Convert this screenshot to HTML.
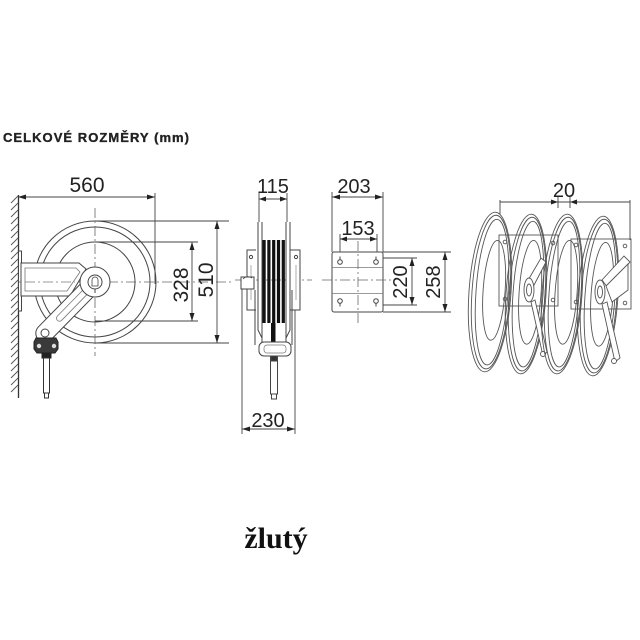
<!DOCTYPE html>
<html><head><meta charset="utf-8"><style>
html,body{margin:0;padding:0;background:#fff;}
svg{display:block;}
</style></head><body>
<svg width="640" height="640" viewBox="0 0 640 640" xmlns="http://www.w3.org/2000/svg">
<rect width="640" height="640" fill="#fff"/>
<!-- Title -->
<text x="3" y="142" font-family="Liberation Sans, sans-serif" font-weight="bold" font-size="13" fill="#222" stroke="#222" stroke-width="0.35" textLength="186" lengthAdjust="spacing">CELKOVÉ ROZMĚRY (mm)</text>

<!-- ============ LEFT VIEW ============ -->
<g stroke="#444" stroke-width="1" fill="none">
  <line x1="18.5" y1="195" x2="18.5" y2="398" stroke="#333" stroke-width="1.3"/>
  <g stroke="#555" stroke-width="0.9">
    <line x1="18" y1="196" x2="11" y2="203"/><line x1="18" y1="203" x2="11" y2="210"/><line x1="18" y1="210" x2="11" y2="217"/><line x1="18" y1="217" x2="11" y2="224"/><line x1="18" y1="224" x2="11" y2="231"/><line x1="18" y1="231" x2="11" y2="238"/><line x1="18" y1="238" x2="11" y2="245"/><line x1="18" y1="245" x2="11" y2="252"/><line x1="18" y1="252" x2="11" y2="259"/><line x1="18" y1="259" x2="11" y2="266"/><line x1="18" y1="266" x2="11" y2="273"/><line x1="18" y1="273" x2="11" y2="280"/><line x1="18" y1="280" x2="11" y2="287"/><line x1="18" y1="287" x2="11" y2="294"/><line x1="18" y1="294" x2="11" y2="301"/><line x1="18" y1="301" x2="11" y2="308"/><line x1="18" y1="308" x2="11" y2="315"/><line x1="18" y1="315" x2="11" y2="322"/><line x1="18" y1="322" x2="11" y2="329"/><line x1="18" y1="329" x2="11" y2="336"/><line x1="18" y1="336" x2="11" y2="343"/><line x1="18" y1="343" x2="11" y2="350"/><line x1="18" y1="350" x2="11" y2="357"/><line x1="18" y1="357" x2="11" y2="364"/><line x1="18" y1="364" x2="11" y2="371"/><line x1="18" y1="371" x2="11" y2="378"/><line x1="18" y1="378" x2="11" y2="385"/><line x1="18" y1="385" x2="11" y2="392"/>
  </g>
  <rect x="18.5" y="251" width="3" height="60" fill="#fff"/>

  <circle cx="95" cy="282" r="61"/>
  <circle cx="95" cy="282" r="55"/>
  <circle cx="95" cy="282" r="40"/>

  <line x1="18" y1="282" x2="232" y2="282" stroke="#666" stroke-width="0.8" stroke-dasharray="10,3,2,3"/>
  <line x1="95" y1="208" x2="95" y2="356" stroke="#666" stroke-width="0.8" stroke-dasharray="10,3,2,3"/>

  <polygon points="21,263 79,263 86,269 70,296 21,296" fill="#fff"/>
  <polygon points="25,268 76,268 80,272 67,291 25,291" stroke="#777" stroke-width="0.8"/>
  <line x1="25" y1="282" x2="75" y2="282" stroke="#777" stroke-width="0.8" stroke-dasharray="10,3,2,3"/>

  <rect x="-45" y="-9" width="90" height="18" rx="9" transform="translate(70,307.5) rotate(134.4)" fill="#fff"/>
  <rect x="-26" y="-3" width="44" height="6" rx="3" transform="translate(70,307.5) rotate(134.4)" stroke="#777" stroke-width="0.8"/>
  <circle cx="45" cy="333" r="4" fill="#fff"/>

  <circle cx="95" cy="282" r="15" fill="#fff"/>
  <circle cx="95" cy="282" r="7"/>
  <path d="M92,286 v-6 a3,3 0 0 1 6,0 v6 z" stroke-width="0.8"/>
  <line x1="95" y1="289" x2="95" y2="293"/>

  <path d="M36,338 h20 l2,4 v7 l-3,4 h-18 l-3,-4 v-7 z" fill="#3a3a3a" stroke="#222"/>
  <circle cx="39" cy="346" r="2.2" fill="#ddd" stroke="none"/>
  <circle cx="54" cy="346" r="2.2" fill="#ddd" stroke="none"/>
  <rect x="42" y="353" width="9" height="5" fill="#222" stroke="#222"/>
  <rect x="43.5" y="358" width="6" height="35" fill="#fff" stroke="#333"/>
  <rect x="44.5" y="393" width="4" height="5" fill="#fff" stroke="#333"/>
</g>

<g stroke="#444" stroke-width="0.9" fill="none">
  <line x1="155" y1="193" x2="155" y2="284"/>
  <line x1="18" y1="197" x2="155" y2="197"/>
  <line x1="95" y1="221" x2="229" y2="221"/>
  <line x1="95" y1="343" x2="229" y2="343"/>
  <line x1="217" y1="221" x2="217" y2="343"/>
  <line x1="95" y1="242" x2="198" y2="242"/>
  <line x1="95" y1="321" x2="198" y2="321"/>
  <line x1="192" y1="242" x2="192" y2="321"/>
</g>
<g fill="#222">
  <polygon points="18,197 26,194.5 26,199.5"/>
  <polygon points="155,197 147,194.5 147,199.5"/>
  <polygon points="217,221 214.5,229 219.5,229"/>
  <polygon points="217,343 214.5,335 219.5,335"/>
  <polygon points="192,242 189.5,250 194.5,250"/>
  <polygon points="192,321 189.5,313 194.5,313"/>
</g>
<g font-family="Liberation Sans, sans-serif" font-size="21" fill="#222" text-anchor="middle">
  <text x="87" y="192">560</text>
  <text transform="translate(188,285) rotate(-90)">328</text>
  <text transform="translate(213,280) rotate(-90)">510</text>
</g>

<!-- ============ SIDE VIEW ============ -->
<g stroke="#444" stroke-width="1" fill="none">
  <line x1="235" y1="280" x2="312" y2="280" stroke="#666" stroke-width="0.8" stroke-dasharray="10,3,2,3"/>
  <path d="M256,250 h-9 v60 h9" fill="#fff"/>
  <circle cx="251" cy="257" r="1.6"/>
  <path d="M290,250 h10 v60 h-10" fill="#fff"/>
  <circle cx="296" cy="257" r="1.6"/>
  <line x1="251" y1="265" x2="251" y2="300" stroke="#888" stroke-width="0.7"/>
  <line x1="296" y1="265" x2="296" y2="300" stroke="#888" stroke-width="0.7"/>
  <line x1="255" y1="290" x2="255" y2="345"/>
  <line x1="292" y1="290" x2="292" y2="345"/>
  <path d="M258,222 v108 l4,8 v-116" fill="#fff"/>
  <path d="M290,222 v108 l-4,8 v-116" fill="#fff"/>
  <path d="M241,277 h13 v12 h-13 z" fill="#fff"/>
  <path d="M243,279 q4,-4 9,-1" stroke-width="0.8"/>
</g>
<g fill="#111">
  <rect x="262.5" y="240" width="3.2" height="83"/>
  <rect x="267.3" y="240" width="3.2" height="83"/>
  <rect x="272.1" y="240" width="3.2" height="83"/>
  <rect x="276.9" y="240" width="3.2" height="83"/>
  <rect x="281.7" y="240" width="3.2" height="83"/>
  <rect x="271" y="323" width="4.5" height="20"/>
</g>
<g stroke="#444" stroke-width="1" fill="#fff">
  <path d="M262,323 v20 M286,323 v20" fill="none"/>
  <rect x="259" y="342" width="32" height="14" rx="5"/>
  <rect x="264" y="345" width="22" height="8" rx="3" fill="none" stroke="#777" stroke-width="0.7"/>
  <rect x="270.5" y="356" width="7" height="38"/>
  <rect x="271" y="356" width="6" height="5" fill="#333"/>
  <rect x="271.5" y="394" width="5" height="5"/>
</g>
<g stroke="#444" stroke-width="0.9" fill="none">
  <line x1="259" y1="193" x2="259" y2="222"/>
  <line x1="287" y1="193" x2="287" y2="222"/>
  <line x1="259" y1="199" x2="287" y2="199"/>
  <line x1="242" y1="289" x2="242" y2="434"/>
  <line x1="295" y1="310" x2="295" y2="434"/>
  <line x1="242" y1="429" x2="295" y2="429"/>
</g>
<g fill="#222">
  <polygon points="259,199 266,196.5 266,201.5"/>
  <polygon points="287,199 280,196.5 280,201.5"/>
  <polygon points="242,429 250,426.5 250,431.5"/>
  <polygon points="295,429 287,426.5 287,431.5"/>
</g>
<g font-family="Liberation Sans, sans-serif" font-size="20" fill="#222" text-anchor="middle">
  <text x="273" y="193">115</text>
  <text x="268" y="427">230</text>
</g>

<!-- ============ PLATE VIEW ============ -->
<g stroke="#444" stroke-width="1" fill="none">
  <rect x="332" y="252" width="51" height="60" rx="2" fill="#fff"/>
  <line x1="332" y1="267.5" x2="383" y2="267.5" stroke="#777" stroke-width="0.8"/>
  <line x1="332" y1="293.5" x2="383" y2="293.5" stroke="#777" stroke-width="0.8"/>
  <line x1="358" y1="241" x2="358" y2="324" stroke="#666" stroke-width="0.8" stroke-dasharray="10,3,2,3"/>
  <line x1="322" y1="280" x2="392" y2="280" stroke="#666" stroke-width="0.8" stroke-dasharray="10,3,2,3"/>
  <circle cx="340" cy="262" r="2.3"/><line x1="340" y1="259.7" x2="340" y2="256.5"/>
  <circle cx="376" cy="262" r="2.3"/><line x1="376" y1="259.7" x2="376" y2="256.5"/>
  <circle cx="340" cy="301" r="2.3"/><line x1="340" y1="303.3" x2="340" y2="306.5"/>
  <circle cx="376" cy="301" r="2.3"/><line x1="376" y1="303.3" x2="376" y2="306.5"/>
</g>
<g stroke="#444" stroke-width="0.9" fill="none">
  <line x1="332" y1="192" x2="332" y2="252"/>
  <line x1="383" y1="192" x2="383" y2="252"/>
  <line x1="332" y1="197" x2="383" y2="197"/>
  <line x1="340" y1="234" x2="340" y2="252"/>
  <line x1="377" y1="234" x2="377" y2="252"/>
  <line x1="340" y1="239" x2="377" y2="239"/>
  <line x1="383" y1="252" x2="451" y2="252"/>
  <line x1="383" y1="312" x2="451" y2="312"/>
  <line x1="445" y1="252" x2="445" y2="312"/>
  <line x1="383" y1="258" x2="417" y2="258"/>
  <line x1="383" y1="305" x2="417" y2="305"/>
  <line x1="412" y1="258" x2="412" y2="305"/>
</g>
<g fill="#222">
  <polygon points="332,197 340,194.5 340,199.5"/>
  <polygon points="383,197 375,194.5 375,199.5"/>
  <polygon points="340,239 347,236.5 347,241.5"/>
  <polygon points="377,239 370,236.5 370,241.5"/>
  <polygon points="445,252 442.5,260 447.5,260"/>
  <polygon points="445,312 442.5,304 447.5,304"/>
  <polygon points="412,258 409.5,266 414.5,266"/>
  <polygon points="412,305 409.5,297 414.5,297"/>
</g>
<g font-family="Liberation Sans, sans-serif" font-size="20" fill="#222" text-anchor="middle">
  <text x="354" y="193">203</text>
  <text x="358" y="235">153</text>
  <text transform="translate(407,282) rotate(-90)">220</text>
  <text transform="translate(440,282) rotate(-90)">258</text>
</g>

<!-- ============ MULTI REEL VIEW ============ -->
<g stroke="#555" stroke-width="0.9" fill="none">
  <g transform="rotate(4,490,292)">
    <ellipse cx="490" cy="292" rx="21" ry="80"/>
    <ellipse cx="491" cy="292" rx="19" ry="77"/>
    <ellipse cx="492" cy="292" rx="16" ry="73"/>
    <ellipse cx="494" cy="290" rx="11" ry="50"/>
  </g>
  <g transform="rotate(4,526,294)">
    <ellipse cx="526" cy="294" rx="20" ry="80"/>
    <ellipse cx="527" cy="294" rx="18" ry="77"/>
    <ellipse cx="528" cy="294" rx="15" ry="73"/>
    <ellipse cx="530" cy="292" rx="11" ry="52"/>
  </g>
  <rect x="499" y="235" width="59" height="71"/>
  <circle cx="505" cy="242" r="1.8"/><circle cx="505" cy="299" r="1.8"/>
  <circle cx="553" cy="243" r="1.8"/><circle cx="553" cy="300" r="1.8"/>
  <polygon points="527,282 541,258 546,262 533,287" fill="#fff"/>
  <ellipse cx="529" cy="290" rx="5" ry="12" fill="#fff"/>
  <ellipse cx="529" cy="290" rx="2.5" ry="6"/>
  <polygon points="531,302 535,300 547,352 543,356" fill="#fff"/>
  <circle cx="543" cy="354" r="2.5" fill="#fff"/>
  <g transform="rotate(4,562,294)">
    <ellipse cx="562" cy="294" rx="20" ry="80"/>
    <ellipse cx="563" cy="294" rx="18" ry="77"/>
    <ellipse cx="564" cy="294" rx="15" ry="73"/>
    <ellipse cx="566" cy="292" rx="11" ry="52"/>
  </g>
  <g transform="rotate(4,598,296)">
    <ellipse cx="598" cy="296" rx="20" ry="80"/>
    <ellipse cx="599" cy="296" rx="18" ry="77"/>
    <ellipse cx="600" cy="296" rx="15" ry="73"/>
    <ellipse cx="602" cy="294" rx="11" ry="52"/>
  </g>
  <rect x="571" y="239" width="60" height="70"/>
  <circle cx="576" cy="245" r="1.8"/><circle cx="576" cy="302" r="1.8"/>
  <circle cx="625" cy="246" r="1.8"/><circle cx="625" cy="303" r="1.8"/>
  <polygon points="602,280 624,256 630,262 608,288" fill="#fff"/>
  <polygon points="606,286 628,264 628,290 612,302" fill="#fff"/>
  <ellipse cx="600" cy="292" rx="5" ry="12" fill="#fff"/>
  <ellipse cx="600" cy="292" rx="2.5" ry="6"/>
  <polygon points="602,304 607,302 620,358 615,362" fill="#fff"/>
  <circle cx="614" cy="361" r="2.5" fill="#fff"/>
</g>
<g stroke="#444" stroke-width="0.9" fill="none">
  <line x1="500" y1="200" x2="500" y2="214"/>
  <line x1="630" y1="200" x2="630" y2="240"/>
  <line x1="500" y1="202" x2="630" y2="202"/>
  <line x1="558" y1="197" x2="558" y2="208"/>
  <line x1="570" y1="197" x2="570" y2="208"/>
</g>
<g fill="#222">
  <polygon points="558,202 551,199.5 551,204.5"/>
  <polygon points="570,202 577,199.5 577,204.5"/>
</g>
<text x="564" y="197" font-family="Liberation Sans, sans-serif" font-size="20" fill="#222" text-anchor="middle">20</text>

<text x="276" y="548" font-family="Liberation Serif, serif" font-weight="bold" font-size="30" fill="#111" text-anchor="middle">žlutý</text>
</svg>
</body></html>
